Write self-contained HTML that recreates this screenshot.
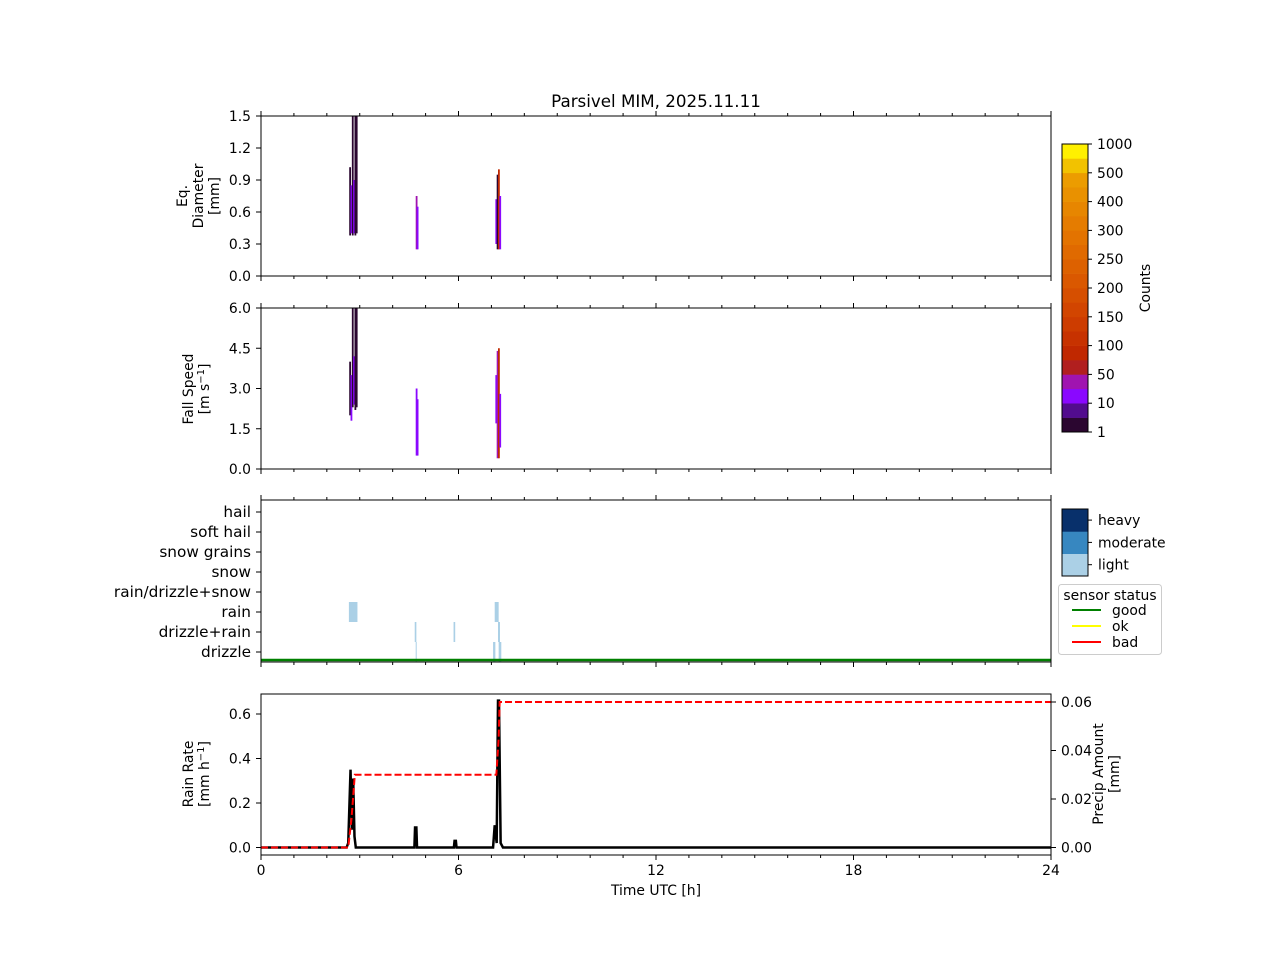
<!DOCTYPE html>
<html><head><meta charset="utf-8"><style>
body{margin:0;background:#fff}
svg{font-family:"DejaVu Sans","Liberation Sans",sans-serif}
</style></head><body>
<svg id="fig" width="1280" height="960" viewBox="0 0 1280 960" xmlns="http://www.w3.org/2000/svg">
<rect width="1280" height="960" fill="#fff"/>
<text x="656" y="107" font-size="16.7" text-anchor="middle">Parsivel MIM, 2025.11.11</text>
<g id="g"></g>
</svg>
<script>
// ---- data ----
const xTicks=[0,6,12,18,24];
const diamTicks=[0,0.3,0.6,0.9,1.2,1.5];
const speedTicks=[0,1.5,3.0,4.5,6.0];
const precipClasses=['drizzle','drizzle+rain','rain','rain/drizzle+snow','snow','snow grains','soft hail','hail'];
const cbTickLabels=['1','10','50','100','150','200','250','300','400','500','1000'];
const cbColors=['#2b0630','#520c8e','#8a08ff','#a014b0','#b11f1f','#c02800','#c73200','#cd3c00','#d24500','#d64f00','#da5800','#dd6100','#e06a00','#e37300','#e57c00','#e78600','#e99100','#ec9c00','#f2c200','#fff000'];
// diameter cells
const diamT=[2.68,2.72,2.76,2.80,2.84,2.88,4.70,4.73,7.12,7.16,7.20,7.24];
const diamLo=[0.38,0.40,0.38,0.40,0.38,0.40,0.25,0.25,0.30,0.25,0.25,0.25];
const diamHi=[1.02,0.85,1.5,0.90,1.5,1.5,0.75,0.65,0.72,0.95,1.00,0.75];
const diamC=[0,2,0,2,0,0,3,2,2,0,5,2];
const speedT=[2.68,2.72,2.76,2.80,2.84,2.88,4.70,4.73,7.12,7.16,7.20,7.24];
const speedLo=[2.0,1.8,2.3,2.4,2.2,2.3,0.5,0.5,1.7,0.4,0.4,0.8];
const speedHi=[4.0,3.5,6.0,4.2,6.0,6.0,3.0,2.6,3.5,4.4,4.5,2.8];
const speedC=[0,2,0,2,0,0,2,2,2,3,5,2];
// present weather bars
const wxT0=[2.67,4.67,4.70,5.85,7.10,7.20,7.05,7.22];
const wxT1=[2.93,4.72,4.73,5.90,7.22,7.26,7.12,7.30];
const wxCls=[2,1,0,1,2,1,0,0];
// rain rate
const rrT=[0,2.6,2.65,2.72,2.76,2.80,2.84,2.88,2.95,4.66,4.68,4.72,4.74,5.86,5.88,5.92,5.94,7.05,7.10,7.16,7.2,7.23,7.28,7.35,24];
const rrV=[0,0,0.02,0.35,0.08,0.31,0.05,0,0,0,0.09,0.09,0,0,0.03,0.03,0,0,0.10,0.02,0.66,0.66,0.02,0,0];
const paT=[0,2.65,2.75,2.85,7.15,7.22,7.25,24];
const paV=[0,0,0.012,0.03,0.03,0.045,0.06,0.06];
const rrTicks=[0,0.2,0.4,0.6];
const paTicks=[0,0.02,0.04,0.06];

// ---- helpers ----
const NS='http://www.w3.org/2000/svg';const G=document.getElementById('g');
function el(t,a,txt){const e=document.createElementNS(NS,t);for(const k in a)e.setAttribute(k,a[k]);if(txt!==undefined)e.textContent=txt;G.appendChild(e);return e;}
const X0=261,X1=1051,FS=13.9;
const xs=t=>X0+(X1-X0)*t/24;
function lin(d0,d1,r0,r1){return v=>r0+(v-d0)*(r1-r0)/(d1-d0);}
const P=[{top:116,bot:276},{top:308,bot:469},{top:500,bot:662},{top:694,bot:855}];
function frame(p,name,topTicks){const r=el('rect',{x:X0,y:p.top,width:X1-X0,height:p.bot-p.top,fill:'none',stroke:'#000','stroke-width':1});

for(let h=0;h<=24;h++){const major=h%6==0;const len=major?5:3;
const l=el('line',{x1:xs(h),x2:xs(h),y1:p.bot,y2:p.bot+len,stroke:'#000'});
if(topTicks){const u=el('line',{x1:xs(h),x2:xs(h),y1:p.top,y2:p.top-len,stroke:'#000'});}}}
function yticks(ticks,sc,fmt,fs,x,side){ticks.forEach(v=>{const y=sc(v);
const l=el('line',{x1:x,x2:side>0?x+5:x-5,y1:y,y2:y,stroke:'#000'});

const t=el('text',{x:side>0?x+10:x-10,y:y+5,'font-size':fs,'text-anchor':side>0?'start':'end'},fmt(v));});}
function ylabel(lines,x,yc,name){const t=el('text',{transform:`translate(${x},${yc}) rotate(-90)`,'font-size':FS,'text-anchor':'middle'});
lines.forEach((s,i)=>{const ts=document.createElementNS(NS,'tspan');ts.setAttribute('x',0);ts.setAttribute('dy',i==0?(-(lines.length-1)*8):16);ts.innerHTML=s;t.appendChild(ts);});}

// ---- panel 1 ----
const yD=lin(0,1.5,P[0].bot,P[0].top);
diamT.forEach((t,i)=>{const r=el('rect',{x:xs(t),y:yD(diamHi[i]),width:1.8,height:yD(diamLo[i])-yD(diamHi[i]),fill:cbColors[diamC[i]]});});
frame(P[0],'diameter-axes',true);yticks(diamTicks,yD,v=>v.toFixed(1),FS,X0,-1);
ylabel(['Eq.','Diameter','[mm]'],203,196,'diameter-y-title');
// ---- panel 2 ----
const yS=lin(0,6,P[1].bot,P[1].top);
speedT.forEach((t,i)=>{const r=el('rect',{x:xs(t),y:yS(speedHi[i]),width:1.8,height:yS(speedLo[i])-yS(speedHi[i]),fill:cbColors[speedC[i]]});});
frame(P[1],'speed-axes',true);yticks(speedTicks,yS,v=>v.toFixed(1),FS,X0,-1);
ylabel(['Fall Speed','[m s<tspan dy="-5" font-size="10">−1</tspan><tspan dy="5">]</tspan>'],201,389,'speed-y-title');
// ---- panel 3 ----
const yC=i=>652-20*i;
wxT0.forEach((t,i)=>{const r=el('rect',{x:xs(t),y:yC(wxCls[i])-10,width:Math.max(1,xs(wxT1[i])-xs(t)),height:20,fill:'#abd0e6'});});
const gl=el('line',{x1:X0,x2:X1,y1:660,y2:660,stroke:'#008000','stroke-width':2.5});
frame(P[2],'weather-axes',true);
precipClasses.forEach((c,i)=>{const y=yC(i);el('line',{x1:X0,x2:X0-5,y1:y,y2:y,stroke:'#000'});const t=el('text',{x:X0-10,y:y+5,'font-size':15.3,'text-anchor':'end'},c);});
// ---- panel 4 ----
const yR=lin(0,0.6,847.5,714),yA=lin(0,0.06,847.5,702);
const rrPath=el('path',{d:rrT.map((t,i)=>(i?'L':'M')+xs(t)+','+yR(rrV[i])).join(''),fill:'none',stroke:'#000','stroke-width':2.5});
const paPath=el('path',{d:paT.map((t,i)=>(i?'L':'M')+xs(t)+','+yA(paV[i])).join(''),fill:'none',stroke:'#f00','stroke-width':2,'stroke-dasharray':'7,3'});
frame(P[3],'rain-axes',false);yticks(rrTicks,yR,v=>v.toFixed(1),FS,X0,-1);yticks(paTicks,yA,v=>v.toFixed(2),FS,X1,1);
ylabel(['Rain Rate','[mm h<tspan dy="-5" font-size="10">−1</tspan><tspan dy="5">]</tspan>'],201,774,'rain-rate-y-title');
ylabel(['Precip Amount','[mm]'],1111,774,'precip-amount-y-title');
xTicks.forEach(v=>{const t=el('text',{x:xs(v),y:875,'font-size':FS,'text-anchor':'middle'},v);});
const xt=el('text',{x:656,y:895,'font-size':FS,'text-anchor':'middle'},'Time UTC [h]');
// ---- colorbar ----
const cbTop=144,cbBot=432,cbX=1062,cbW=26;const bh=(cbBot-cbTop)/cbColors.length;
cbColors.forEach((c,i)=>{const r=el('rect',{x:cbX,y:cbBot-(i+1)*bh,width:cbW,height:bh+0.3,fill:c});});
el('rect',{x:cbX,y:cbTop,width:cbW,height:cbBot-cbTop,fill:'none',stroke:'#000'});
cbTickLabels.forEach((s,i)=>{const y=cbBot-i*(cbBot-cbTop)/10;el('line',{x1:cbX+cbW,x2:cbX+cbW+4,y1:y,y2:y,stroke:'#000'});const t=el('text',{x:cbX+cbW+9,y:y+5,'font-size':FS},s);});
const ct=el('text',{transform:'translate(1150,288) rotate(-90)','font-size':FS,'text-anchor':'middle'},'Counts');
// intensity bar
const intens=['light','moderate','heavy'],intCol=['#abd0e6','#3787c0','#08306b'];
intens.forEach((s,i)=>{const y0=576-(i+1)*22.3;const r=el('rect',{x:cbX,y:y0,width:cbW,height:22.6,fill:intCol[i]});
el('line',{x1:cbX+cbW,x2:cbX+cbW+4,y1:y0+11,y2:y0+11,stroke:'#000'});el('text',{x:cbX+cbW+10,y:y0+16,'font-size':FS},s);});
el('rect',{x:cbX,y:509,width:cbW,height:67,fill:'none',stroke:'#000'});
// legend
const lg=el('rect',{x:1058.5,y:584.5,width:103,height:70,rx:3,fill:'#fff',stroke:'#ccc'});
el('text',{x:1110,y:600,'font-size':FS,'text-anchor':'middle'},'sensor status');
[['good','#008000'],['ok','#ffff00'],['bad','#ff0000']].forEach((d,i)=>{const y=610+i*16;el('line',{x1:1072,x2:1101,y1:y,y2:y,stroke:d[1],'stroke-width':2});const t=el('text',{x:1112,y:y+5,'font-size':FS},d[0]);});
</script>
</body></html>
